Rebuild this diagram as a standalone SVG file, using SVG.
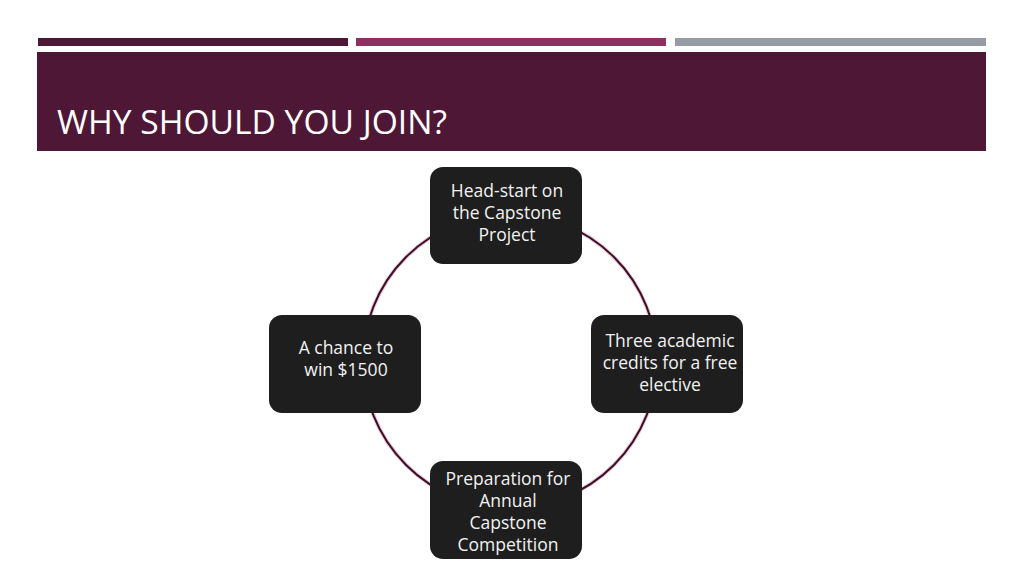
<svg xmlns="http://www.w3.org/2000/svg" width="1024" height="576" viewBox="0 0 1024 576">
<style>
.node rect{fill:#1e1e1e;}
.node text{font-family:"Open Sans","Liberation Sans",sans-serif;font-size:17.5px;fill:#f2f2f2;text-anchor:middle;}
.arc{fill:none;stroke:#3d0f27;stroke-width:2;}
.arcsh{fill:none;stroke:#e8c8d6;stroke-width:4;}
</style>
<rect width="1024" height="576" fill="#ffffff"/>
<g id="header">
<rect x="38" y="38" width="310" height="8" fill="#4f1736"/>
<rect x="356" y="38" width="310" height="8" fill="#8e3062"/>
<rect x="675" y="38" width="311" height="8" fill="#969ca6"/>
<rect x="37" y="52" width="949" height="99" fill="#4f1736"/>
<text x="57" y="134" font-family="'Open Sans','Liberation Sans',sans-serif" font-size="33" fill="#ffffff" textLength="390" lengthAdjust="spacingAndGlyphs">WHY SHOULD YOU JOIN?</text>
</g>
<g id="connectors">
<circle class="arcsh" cx="510" cy="361" r="147"/>
<circle class="arc" cx="510" cy="361" r="147"/>
</g>
<g id="node-top" class="node">
<rect x="430" y="167" width="152" height="97" rx="13"/>
<text x="507" y="197">Head-start on</text>
<text x="507" y="219">the Capstone</text>
<text x="507" y="241">Project</text>
</g>
<g id="node-right" class="node">
<rect x="591" y="315" width="152" height="98" rx="13"/>
<text x="670" y="347">Three academic</text>
<text x="670" y="369">credits for a free</text>
<text x="670" y="391">elective</text>
</g>
<g id="node-bottom" class="node">
<rect x="430" y="461" width="152" height="98" rx="13"/>
<text x="508" y="485">Preparation for</text>
<text x="508" y="507">Annual</text>
<text x="508" y="529">Capstone</text>
<text x="508" y="551">Competition</text>
</g>
<g id="node-left" class="node">
<rect x="269" y="315" width="152" height="98" rx="13"/>
<text x="346" y="354">A chance to</text>
<text x="346" y="376">win $1500</text>
</g>
</svg>
